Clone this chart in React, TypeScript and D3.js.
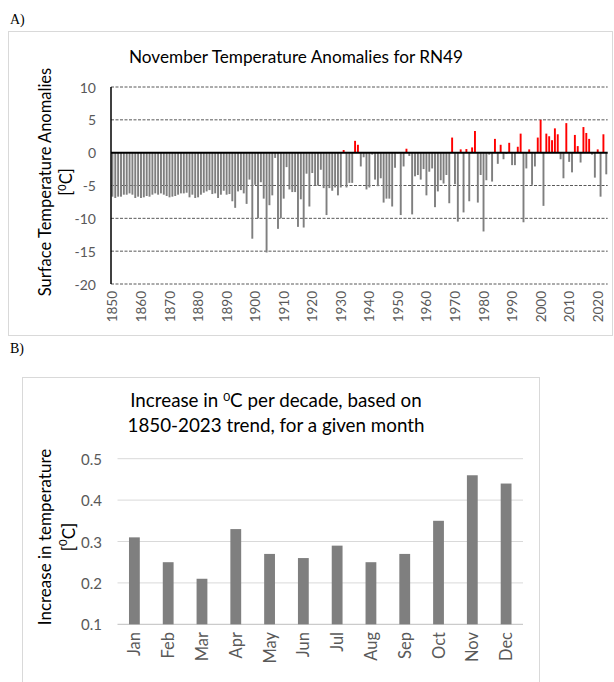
import React from "react";
import * as d3 from "d3";

const years: number[] = d3.range(1850, 2024);
const anomalies: number[] = [
  // 1850s
  -6.7, -6.9, -6.7, -6.7, -6.4, -6.4, -6.2, -6.4, -6.9, -6.7,
  // 1860s
  -6.9, -6.8, -6.6, -6.7, -6.4, -6.2, -6.4, -6.2, -6.4, -6.6,
  // 1870s
  -6.8, -6.7, -6.6, -6.4, -6.2, -6.2, -6.1, -6.8, -6.4, -6.9,
  // 1880s
  -6.8, -6.4, -6.1, -5.9, -5.7, -6.3, -6.2, -6.9, -6.4, -5.8,
  // 1890s
  -6.4, -6.3, -7.4, -8.4, -5.9, -5.7, -6.2, -7.8, -4.1, -13.1,
  // 1900s
  -4.9, -10.0, -4.5, -7.0, -15.2, -8.0, -6.5, -0.8, -11.6, -10.0,
  // 1910s
  -7.0, -2.2, -5.6, -6.0, -6.0, -11.3, -7.1, -11.4, -3.2, -8.2,
  // 1920s
  -3.1, -5.0, -5.0, -2.6, -5.4, -9.5, -5.4, -5.8, -5.3, -6.5,
  // 1930s
  -5.3, 0.4, -5.3, -4.6, -4.6, 1.8, 1.2, -2.1, -0.7, -5.6,
  // 1940s
  -5.3, -0.3, -4.1, -5.1, -3.9, -7.6, -7.0, -7.0, -8.2, -2.3,
  // 1950s
  -0.1, -9.5, -2.1, 0.6, -0.5, -9.4, -3.6, -3.4, -4.1, -2.5,
  // 1960s
  -6.5, -2.9, -2.4, -8.3, -5.9, -4.2, -4.7, -3.4, -7.7, 2.3,
  // 1970s
  -4.8, -10.5, 0.5, -9.1, 0.55, -7.4, 0.8, 3.3, -7.6, -3.4,
  // 1980s
  -12.0, -4.2, -0.3, -4.4, 2.1, -1.7, 1.2, -1.0, -0.2, 1.5,
  // 1990s
  -1.9, -1.9, 0.9, 2.9, -10.6, -2.4, 0.5, -4.9, -2.1, 2.3,
  // 2000s
  5.0, -8.1, 2.9, 2.5, 1.9, 3.7, 2.8, -1.0, -3.9, 4.5,
  // 2010s
  -1.4, -3.0, 2.7, 1.0, -1.5, 3.9, 3.0, 2.1, -0.3, -3.8,
  // 2020s
  0.5, -6.7, 2.8, -3.3,
];
const yTicksA: number[] = [10, 5, 0, -5, -10, -15, -20];
const yearLabels: number[] = d3.range(1850, 2021, 10);

const months: string[] = ["Jan", "Feb", "Mar", "Apr", "May", "Jun", "Jul", "Aug", "Sep", "Oct", "Nov", "Dec"];
const trendPerDecade: number[] = [0.31, 0.25, 0.21, 0.33, 0.27, 0.26, 0.29, 0.25, 0.27, 0.35, 0.46, 0.44];
const yTicksB: number[] = [0.1, 0.2, 0.3, 0.4, 0.5];

const FONT = "Lato, 'Open Sans', sans-serif";
const LABEL = "#595959";

export default function App() {
  // Panel A scales
  const pA = 0.33;
  const xA = d3.scaleBand<number>().domain(years).range([111, 607.7]).paddingInner(pA).paddingOuter(pA / 2);
  const yA = d3.scaleLinear().domain([-20, 10]).range([284, 87]);
  const dataA = years.map((y, i) => ({ year: y, v: anomalies[i] }));

  // Panel B scales
  const pB = 0.68;
  const xB = d3.scaleBand<string>().domain(months).range([117.5, 523]).paddingInner(pB).paddingOuter(pB / 2);
  const yB = d3.scaleLinear().domain([0.1, 0.5]).range([624.3, 458.7]);
  const dataB = months.map((m, i) => ({ m, v: trendPerDecade[i] }));

  const centerA = (y: number) => (xA(y) as number) + xA.bandwidth() / 2;
  const centerB = (m: string) => (xB(m) as number) + xB.bandwidth() / 2;

  return (
    <svg
      width={614}
      height={682}
      style={{ position: "absolute", left: 0, top: 0, background: "#fff" }}
      fontFamily={FONT}
    >
      <rect x={0} y={0} width={614} height={682} fill="#fff" />
      {/* Panel labels */}
      <text x={10} y={24} fontFamily="'Liberation Serif', 'Times New Roman', serif" fontSize={14} fill="#000">A)</text>
      <text x={10} y={353} fontFamily="'Liberation Serif', 'Times New Roman', serif" fontSize={14} fill="#000">B)</text>

      {/* Panel A frame */}
      <rect x={8.5} y={31.5} width={604} height={304} fill="none" stroke="#d9d9d9" strokeWidth={1} />
      <text x={296} y={63} textAnchor="middle" fontSize={17.2} fill="#000">
        November Temperature Anomalies for RN49
      </text>

      {/* Gridlines A */}
      {yTicksA.filter((t) => t !== 0).map((t) => (
        <line key={t} x1={111} x2={607.7} y1={yA(t)} y2={yA(t)} stroke="#595959" strokeWidth={1} strokeDasharray="3,1.5" />
      ))}
      {/* Y tick labels A */}
      {yTicksA.map((t) => (
        <text key={t} x={96} y={yA(t)} textAnchor="end" dominantBaseline="central" fontSize={14} fill={LABEL}>
          {t}
        </text>
      ))}
      {/* Bars A */}
      {dataA.map((d) => (
        <rect
          key={d.year}
          x={xA(d.year)}
          width={xA.bandwidth()}
          y={Math.min(yA(d.v), yA(0))}
          height={Math.abs(yA(d.v) - yA(0))}
          fill={d.v > 0 ? "#ff0000" : "#7f7f7f"}
        />
      ))}
      {/* Axes A */}
      <line x1={111} x2={111} y1={yA(10)} y2={yA(-20)} stroke="#000" strokeWidth={1.5} />
      <line x1={111} x2={607.7} y1={yA(0)} y2={yA(0)} stroke="#000" strokeWidth={2} />
      {/* X labels A */}
      {yearLabels.map((y) => (
        <text
          key={y}
          transform={`translate(${centerA(y)},${291}) rotate(-90)`}
          textAnchor="end"
          dominantBaseline="central"
          fontSize={13.5}
          fill={LABEL}
        >
          {y}
        </text>
      ))}
      {/* Y title A */}
      <text transform="translate(45,182) rotate(-90)" textAnchor="middle" dominantBaseline="central" fontSize={16.5} fill="#000">
        Surface  Temperature Anomalies
      </text>
      <text transform="translate(66,182) rotate(-90)" textAnchor="middle" dominantBaseline="central" fontSize={16.5} fill="#000">
        [<tspan fontSize={11} dy={-5.5}>0</tspan><tspan dy={5.5}>C]</tspan>
      </text>

      {/* Panel B frame */}
      <rect x={22.5} y={377.5} width={517} height={320} fill="none" stroke="#d9d9d9" strokeWidth={1} />
      <text x={276} y={407} textAnchor="middle" fontSize={18.8} fill="#000">
        Increase in <tspan fontSize={12} dy={-6.5}>0</tspan><tspan dy={6.5}>C per decade, based on</tspan>
      </text>
      <text x={276} y={432} textAnchor="middle" fontSize={18.8} fill="#000">
        1850-2023 trend, for a given month
      </text>
      {/* Gridlines B */}
      {yTicksB.map((t) => (
        <line
          key={t}
          x1={117.5}
          x2={523}
          y1={yB(t)}
          y2={yB(t)}
          stroke={t === 0.1 ? "#bfbfbf" : "#d9d9d9"}
          strokeWidth={1}
        />
      ))}
      {yTicksB.map((t) => (
        <text key={t} x={102} y={yB(t)} textAnchor="end" dominantBaseline="central" fontSize={15} fill={LABEL}>
          {t.toFixed(1)}
        </text>
      ))}
      {/* Bars B */}
      {dataB.map((d) => (
        <rect
          key={d.m}
          x={xB(d.m)}
          width={xB.bandwidth()}
          y={yB(d.v)}
          height={yB(0.1) - yB(d.v)}
          fill="#7f7f7f"
        />
      ))}
      {/* X labels B */}
      {months.map((m) => (
        <text
          key={m}
          transform={`translate(${centerB(m)},${632}) rotate(-90)`}
          textAnchor="end"
          dominantBaseline="central"
          fontSize={16.5}
          fill={LABEL}
        >
          {m}
        </text>
      ))}
      {/* Y title B */}
      <text transform="translate(44,537) rotate(-90)" textAnchor="middle" dominantBaseline="central" fontSize={17} fill="#000">
        Increase in temperature
      </text>
      <text transform="translate(68,537) rotate(-90)" textAnchor="middle" dominantBaseline="central" fontSize={17} fill="#000">
        [<tspan fontSize={11.5} dy={-6}>0</tspan><tspan dy={6}>C]</tspan>
      </text>
    </svg>
  );
}
